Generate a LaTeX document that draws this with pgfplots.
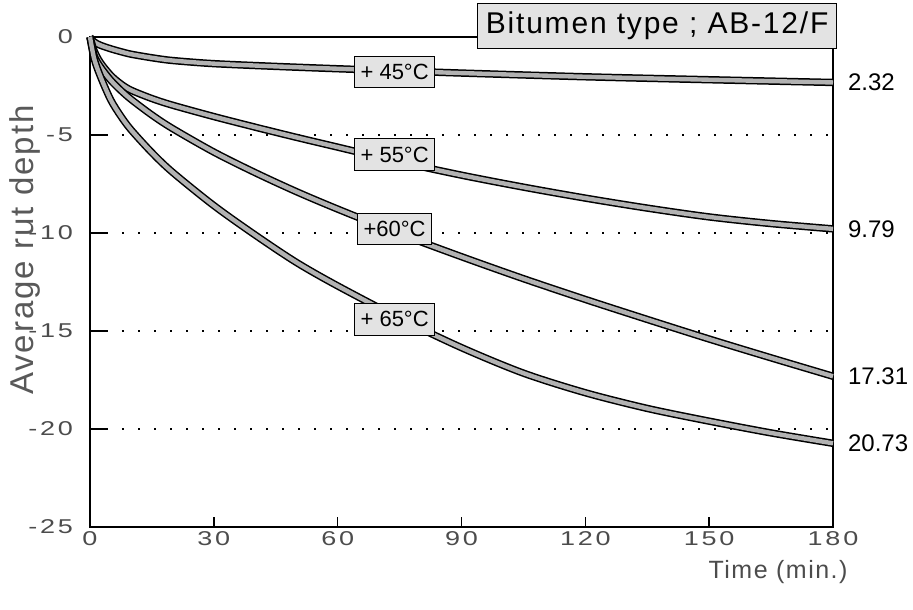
\documentclass[border=0pt]{standalone}
\usepackage{fontspec}
\setmainfont{Liberation Sans}
\newfontfamily\tickfont[FakeStretch=1.35,LetterSpace=14]{Liberation Sans}
\newfontfamily\labfont[LetterSpace=6]{Liberation Sans}
\usepackage{pgfplots}
\pgfplotsset{compat=1.18}
\tikzset{
  curve/.style={draw=black, line width=0.75pt, double=gray!60, double distance=2.2pt, smooth, tension=0.5},
  lbl/.style={draw=black, line width=0.5pt, fill=gray!22, inner xsep=3pt, inner ysep=4pt, font=\fontsize{11}{13}\selectfont},
  endlbl/.style={anchor=west, xshift=4pt, font=\fontsize{12}{14}\selectfont},
}
\pgfplotstableread{
t v
0 0
1 -0.25
2.5 -0.42
5 -0.6
7.5 -0.75
10 -0.88
15 -1.06
20 -1.2
30 -1.36
45 -1.5
60 -1.62
75 -1.73
90 -1.84
120 -2.03
150 -2.18
180 -2.32
}\tfortyfive
\pgfplotstableread{
t v
0 0
1 -0.7
2.5 -1.3
5 -1.95
7.5 -2.4
10 -2.72
15 -3.14
20 -3.48
30 -4.06
40 -4.6
50 -5.12
60 -5.62
75 -6.37
90 -7.05
105 -7.66
120 -8.22
135 -8.73
150 -9.18
165 -9.52
180 -9.79
}\tfiftyfive
\pgfplotstableread{
t v
0 0
1 -0.95
2.5 -1.52
5 -2.2
7.5 -2.73
10 -3.19
15 -3.98
20 -4.67
30 -5.87
40 -6.92
50 -7.89
60 -8.78
75 -10.04
90 -11.21
105 -12.33
120 -13.39
135 -14.41
150 -15.41
165 -16.37
180 -17.31
}\tsixty
\pgfplotstableread{
t v
0 0
1 -1.1
2.5 -2.0
5 -3.2
7.5 -4.05
10 -4.75
15 -5.9
20 -6.9
30 -8.6
40 -10.1
50 -11.5
60 -12.7
75 -14.35
90 -15.85
105 -17.15
120 -18.15
135 -18.95
150 -19.6
165 -20.2
180 -20.73
}\tsixtyfive
\begin{document}
\begin{tikzpicture}
\path[use as bounding box] (-45pt,-41pt) rectangle (411.5pt,263.5pt);
\begin{axis}[
  name=ax,
  scale only axis, width=371.5pt, height=245pt,
  xmin=0, xmax=180, ymin=-25, ymax=0,
  clip=false,
  axis line style={line width=0.6pt},
  xtick={0,30,60,90,120,150,180},
  xticklabels={0,30,60,90,120,150,180},
  ytick={0,-5,-10,-15,-20,-25},
  yticklabels={0,-5,-10,-15,-20,-25},
  tick align=inside, major tick length=5pt,
  xtick pos=bottom, ytick pos=left,
  every tick/.style={draw=black, line width=0.8pt},
  ticklabel style={font=\tickfont\fontsize{10}{12}\selectfont, text=black!70},
  xticklabel style={yshift=1.5pt},
  yticklabel style={xshift=-5pt},
  ymajorgrids,
  grid style={black, line width=0.7pt, dash pattern=on 1pt off 7pt},
  xlabel={Time (min.)},
  xlabel style={at={(axis description cs:0.926,-0.092)}, anchor=center,
    font=\labfont\fontsize{12.5}{14}\selectfont, text=black!70},
  ylabel={Average rut depth},
  ylabel style={at={(axis description cs:-0.0875,0.565)}, anchor=center, rotate=0,
    font=\labfont\fontsize{16.5}{18}\selectfont, text=black!65},
]
\addplot[curve] table[x=t,y=v] {\tfortyfive};
\addplot[curve] table[x=t,y=v] {\tfiftyfive};
\addplot[curve] table[x=t,y=v] {\tsixty};
\addplot[curve] table[x=t,y=v] {\tsixtyfive};
\draw[line width=0.9pt] (axis cs:0,-5) -- (axis cs:4.4,-5);
\draw[line width=0.9pt] (axis cs:0,-10) -- (axis cs:4.4,-10);
\draw[line width=0.9pt] (axis cs:0,-15) -- (axis cs:4.4,-15);
\draw[line width=0.9pt] (axis cs:0,-20) -- (axis cs:4.4,-20);
\node[lbl] at (axis cs:73.8,-1.78) {+ 45°C};
\node[lbl] at (axis cs:73.8,-6.0) {+ 55°C};
\node[lbl] at (axis cs:73.8,-9.8) {+60°C};
\node[lbl] at (axis cs:73.8,-14.4) {+ 65°C};
\node[endlbl] at (axis cs:180,-2.32) {2.32};
\node[endlbl] at (axis cs:180,-9.79) {9.79};
\node[endlbl] at (axis cs:180,-17.31) {17.31};
\node[endlbl] at (axis cs:180,-20.73) {20.73};
\end{axis}
\node[draw=black, line width=0.6pt, fill=gray!22, anchor=north east, minimum height=22.5pt,
  inner xsep=4pt, font=\labfont\fontsize{15}{17}\selectfont] at ([xshift=2pt,yshift=17pt]ax.north east) {Bitumen type ; AB-12/F};
\end{tikzpicture}
\end{document}
